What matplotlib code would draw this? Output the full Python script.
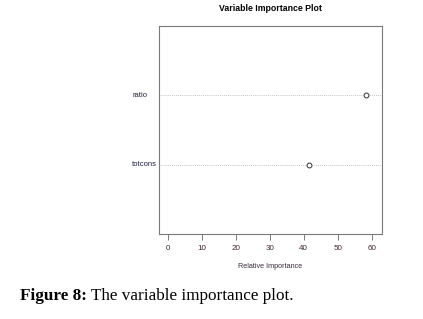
import matplotlib.pyplot as plt

variables = ['totcons', 'ratio']
importance = [41.7, 58.4]
xticks = [0, 10, 20, 30, 40, 50, 60]

plt.rcParams['font.family'] = ['Liberation Sans', 'DejaVu Sans']

fig = plt.figure(figsize=(4.23, 3.19), dpi=100)
ax = fig.add_axes([0.376, 0.266, 0.527, 0.652])

ypos = list(range(1, len(variables) + 1))
for y in ypos:
    ax.axhline(y, color='#b0b0b0', lw=0.6, ls=(0, (1, 1.5)), zorder=1)
ax.plot(importance, ypos, 'o', mfc='white', mec='#333333', ms=3.5, mew=0.7,
        ls='none', zorder=3)

ax.set_xlim(-2.5, 63.0)
ax.set_ylim(0, 3)
ax.set_xticks(xticks)
ax.set_xticklabels([str(t) for t in xticks], fontsize=5.8, color='#402828')
ax.set_yticks([])
for y, name in zip(ypos, variables):
    ax.text(-0.12, y, name, transform=ax.get_yaxis_transform(), ha='left',
            va='center', fontsize=5.5, color='#202040')

for s in ax.spines.values():
    s.set_color('#7a7a7a')
    s.set_linewidth(0.8)
ax.tick_params(axis='x', colors='#7a7a7a', labelcolor='#402828', length=4,
               width=0.7, pad=3.5)
ax.set_xlabel('Relative Importance', fontsize=5.2, color='#3a2a3a', labelpad=8)
fig.text(0.64, 0.972, 'Variable Importance Plot', ha='center', va='center',
         fontsize=6.3, fontweight='bold')

t1 = fig.text(0.047, 0.06, 'Figure 8:', family='Liberation Serif',
              fontsize=12.3, fontweight='bold', ha='left', va='baseline')
ax.annotate(' The variable importance plot.', xy=(1, 0), xycoords=t1,
            family='Liberation Serif', fontsize=12.3, ha='left', va='bottom',
            annotation_clip=False)

fig.savefig('out.png', dpi=100)
